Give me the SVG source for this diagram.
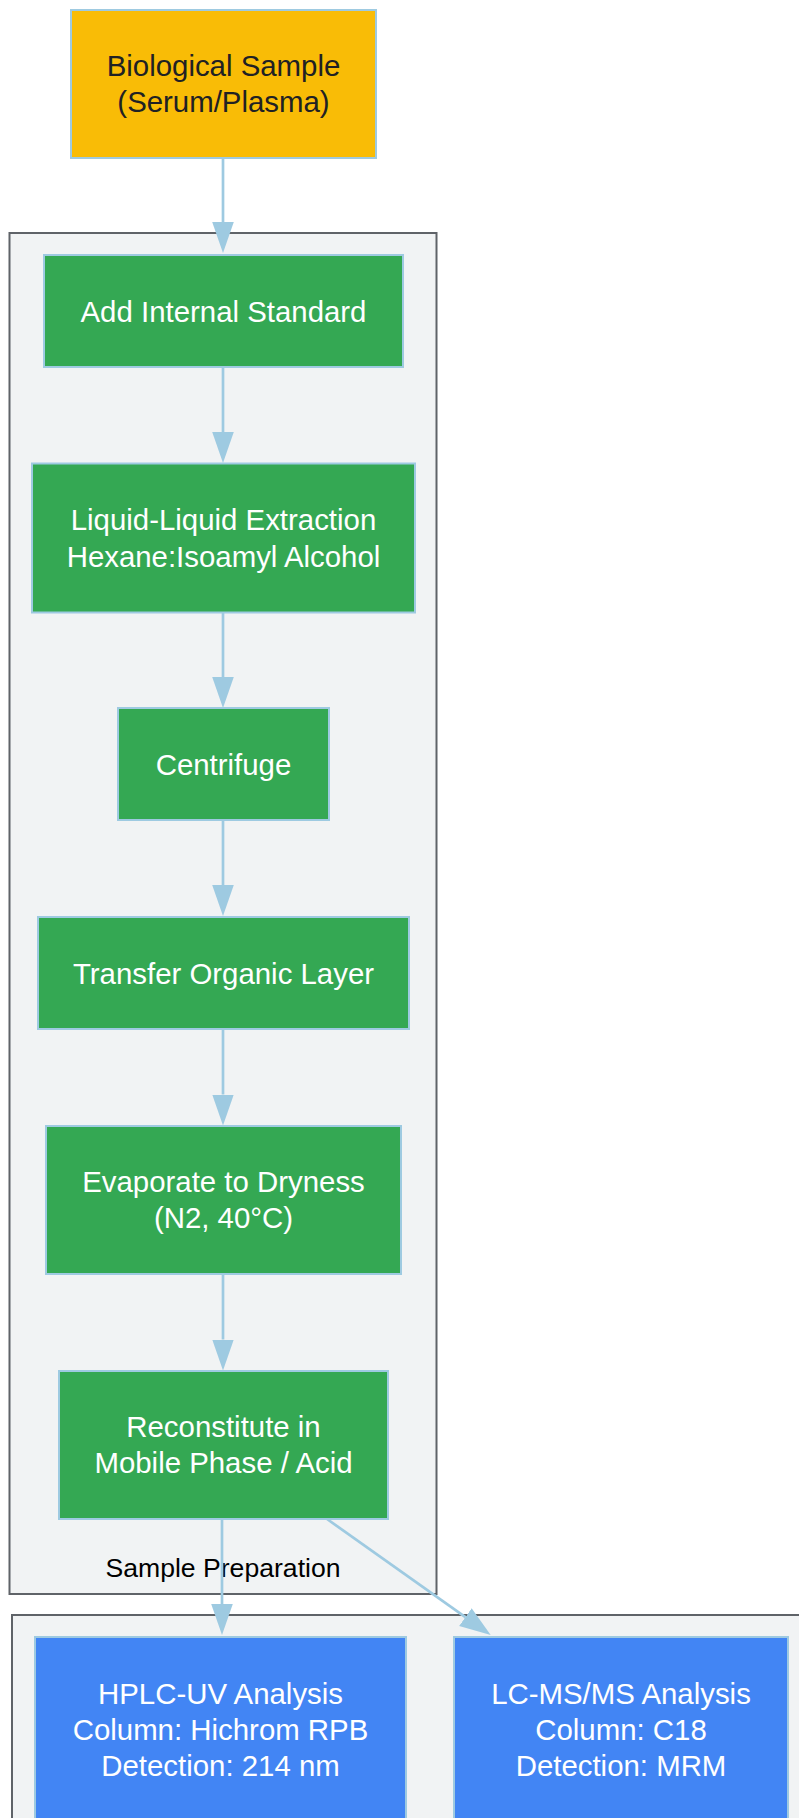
<svg xmlns="http://www.w3.org/2000/svg" width="799" height="1818" viewBox="0 0 799 1818">
<style>
.cl{fill:#f1f3f4;stroke:#5f6368;stroke-width:2}
.nd{stroke:#9ecae1;stroke-width:2}
.y{fill:#f9bc06}
.g{fill:#34a853}
.b{fill:#4285f4}
text{font-family:"Liberation Sans",Arial,Helvetica,sans-serif;font-size:29.4px;text-anchor:middle}
.w{fill:#ffffff}
.k{fill:#202124}
.lb{fill:#000000;font-size:26.6px}
.ed{fill:none;stroke:#9ecae1;stroke-width:2.7}
</style>
<defs>
<marker id="ah" markerUnits="userSpaceOnUse" markerWidth="32" markerHeight="22" refX="0" refY="10.8" orient="auto">
<path d="M0,0 L31,10.8 L0,21.6 Z" fill="#9ecae1"/>
</marker>
</defs>
<rect width="799" height="1818" fill="#ffffff"/>
<g id="cluster-prep">
<rect class="cl" x="9.5" y="233" width="427" height="1361"/>
<text class="lb" x="223" y="1577">Sample Preparation</text>
</g>
<g id="cluster-analysis">
<rect class="cl" x="12" y="1615" width="830" height="300"/>
</g>
<g id="connectors">
<path class="ed" d="M223,158 L223,222" marker-end="url(#ah)"/>
<path class="ed" d="M223,367 L223,432" marker-end="url(#ah)"/>
<path class="ed" d="M223,612 L223,677" marker-end="url(#ah)"/>
<path class="ed" d="M223,820 L223,885" marker-end="url(#ah)"/>
<path class="ed" d="M223,1029 L223,1094.5" marker-end="url(#ah)"/>
<path class="ed" d="M223,1274 L223,1339.5" marker-end="url(#ah)"/>
<path class="ed" d="M222,1519 L222,1604" marker-end="url(#ah)"/>
<path class="ed" d="M327,1519 L465.4,1617.1" marker-end="url(#ah)"/>
</g>
<g id="bio-sample">
<rect class="nd y" x="71" y="10" width="305" height="148"/>
<text class="k" x="223.5" y="76">Biological Sample</text>
<text class="k" x="223.5" y="112">(Serum/Plasma)</text>
</g>
<g id="add-is">
<rect class="nd g" x="44" y="255" width="359" height="112"/>
<text class="w" x="223.5" y="321.5">Add Internal Standard</text>
</g>
<g id="lle">
<rect class="nd g" x="32" y="463.5" width="383" height="149"/>
<text class="w" x="223.5" y="530">Liquid-Liquid Extraction</text>
<text class="w" x="223.5" y="566.5">Hexane:Isoamyl Alcohol</text>
</g>
<g id="centrifuge">
<rect class="nd g" x="118" y="708" width="211" height="112"/>
<text class="w" x="223.5" y="775">Centrifuge</text>
</g>
<g id="transfer">
<rect class="nd g" x="38" y="917" width="371" height="112"/>
<text class="w" x="223.5" y="984">Transfer Organic Layer</text>
</g>
<g id="evaporate">
<rect class="nd g" x="46" y="1126" width="355" height="148"/>
<text class="w" x="223.5" y="1192">Evaporate to Dryness</text>
<text class="w" x="223.5" y="1228">(N2, 40°C)</text>
</g>
<g id="reconstitute">
<rect class="nd g" x="59" y="1371" width="329" height="148"/>
<text class="w" x="223.5" y="1437">Reconstitute in</text>
<text class="w" x="223.5" y="1473">Mobile Phase / Acid</text>
</g>
<g id="hplc">
<rect class="nd b" x="35" y="1637" width="371" height="185"/>
<text class="w" x="220.5" y="1703.5">HPLC-UV Analysis</text>
<text class="w" x="220.5" y="1739.5">Column: Hichrom RPB</text>
<text class="w" x="220.5" y="1775.5">Detection: 214 nm</text>
</g>
<g id="lcms">
<rect class="nd b" x="454" y="1637" width="334" height="185"/>
<text class="w" x="621" y="1703.5">LC-MS/MS Analysis</text>
<text class="w" x="621" y="1739.5">Column: C18</text>
<text class="w" x="621" y="1775.5">Detection: MRM</text>
</g>
</svg>
